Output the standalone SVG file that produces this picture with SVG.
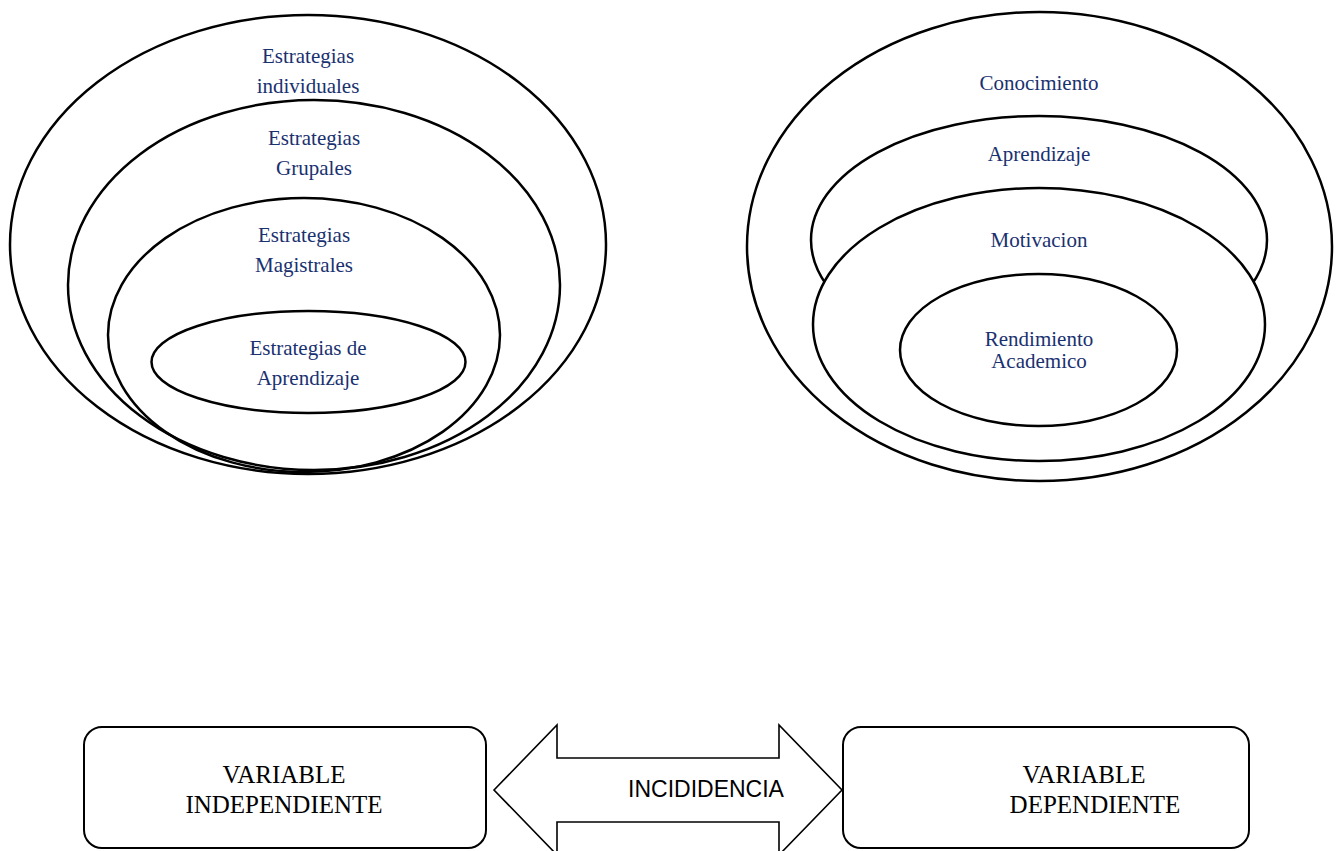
<svg xmlns="http://www.w3.org/2000/svg" width="1338" height="851" viewBox="0 0 1338 851">
<style>
.ring{fill:none;stroke:#000;stroke-width:2.5}
.ringw{fill:#fff;stroke:#000;stroke-width:2.5}
.lbl{font-family:"Liberation Serif","Times New Roman",serif;font-size:21px;fill:#1A3170;text-anchor:middle}
.box{fill:#fff;stroke:#000;stroke-width:2}
.var{font-family:"Liberation Serif","Times New Roman",serif;font-size:25px;fill:#000;text-anchor:middle}
.inc{font-family:"Liberation Sans",Arial,sans-serif;font-size:23px;fill:#000;text-anchor:middle}
</style>
<rect width="1338" height="851" fill="#fff"/>
<g id="left-individuales"><ellipse class="ring" cx="308" cy="244.5" rx="298" ry="229.5"/>
<text class="lbl" x="308" y="63">Estrategias</text><text class="lbl" x="308" y="93">individuales</text></g>
<g id="left-grupales"><ellipse class="ring" cx="314" cy="285" rx="246" ry="185"/>
<text class="lbl" x="314" y="145">Estrategias</text><text class="lbl" x="314" y="175">Grupales</text></g>
<g id="left-magistrales"><ellipse class="ring" cx="304" cy="335" rx="196" ry="137"/>
<text class="lbl" x="304" y="242">Estrategias</text><text class="lbl" x="304" y="272">Magistrales</text></g>
<g id="left-aprendizaje"><ellipse class="ring" cx="308.5" cy="362" rx="157" ry="51"/>
<text class="lbl" x="308" y="355">Estrategias de</text><text class="lbl" x="308" y="385">Aprendizaje</text></g>
<g id="right-conocimiento"><ellipse class="ringw" cx="1039.5" cy="246.5" rx="292.5" ry="234.5"/>
<text class="lbl" x="1039" y="90">Conocimiento</text></g>
<g id="right-aprendizaje"><ellipse class="ringw" cx="1039" cy="240" rx="228" ry="124"/>
<text class="lbl" x="1039" y="161">Aprendizaje</text></g>
<g id="right-motivacion"><ellipse class="ringw" cx="1039" cy="324.5" rx="226" ry="136.5"/>
<text class="lbl" x="1039" y="247">Motivacion</text></g>
<g id="right-rendimiento"><ellipse class="ringw" cx="1038.5" cy="350" rx="138.5" ry="76"/>
<text class="lbl" x="1039" y="346">Rendimiento</text><text class="lbl" x="1039" y="368">Academico</text></g>
<g id="var-independiente"><rect class="box" x="84" y="727" width="402" height="121" rx="18"/>
<text class="var" x="284" y="783">VARIABLE</text><text class="var" x="284" y="813">INDEPENDIENTE</text></g>
<g id="var-dependiente"><rect class="box" x="843" y="727" width="406" height="121" rx="18"/>
<text class="var" x="1084" y="783">VARIABLE</text><text class="var" x="1095" y="813">DEPENDIENTE</text></g>
<g id="connectors">
<path d="M494,790 L557,725 L557,758 L779,758 L779,725 L842,790 L779,855 L779,822 L557,822 L557,855 Z" fill="#fff" stroke="#000" stroke-width="1.6" stroke-linejoin="miter"/>
<text class="inc" x="706" y="797">INCIDIDENCIA</text>
</g>
</svg>
